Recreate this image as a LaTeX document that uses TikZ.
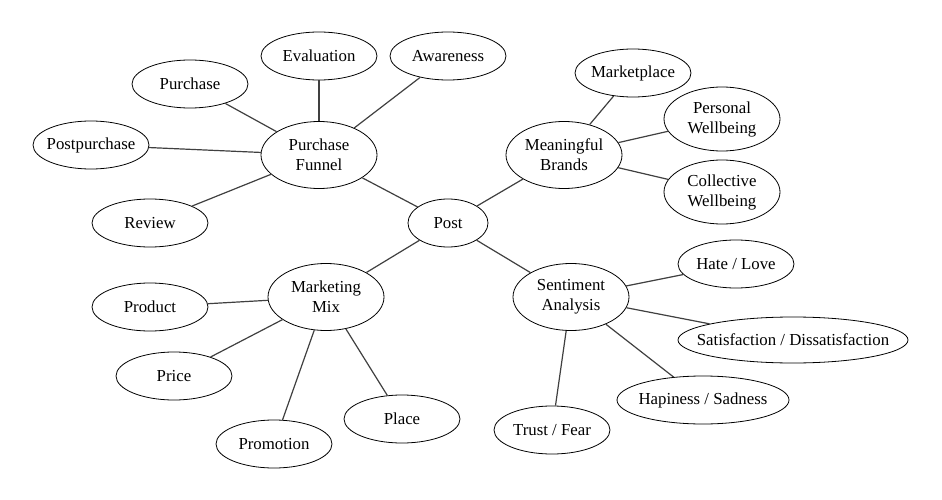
\documentclass[tikz,border=0pt]{standalone}
\usepackage{fontspec}
\setmainfont{Liberation Serif}
\usetikzlibrary{shapes.geometric}
\begin{document}
\begin{tikzpicture}[x=1pt,y=-1pt,
  bubble/.style={draw,ellipse,line width=0.8pt,fill=white,inner xsep=-20pt,inner ysep=0pt,minimum width=116pt,minimum height=48pt,align=center,font=\fontsize{16.8}{20}\selectfont},
  hub/.style={bubble,minimum height=67pt},
  link/.style={draw=black!75,line width=1.2pt}]
\useasboundingbox[fill=white] (0,0) rectangle (942,500);

\node[bubble,minimum width=80pt] (post) at (448,223) {Post};
\node[hub] (funnel) at (319,155) {Purchase\\Funnel};
\node[hub] (brands) at (564,155) {Meaningful\\Brands};
\node[hub] (mix) at (326,297) {Marketing\\Mix};
\node[hub] (senti) at (571,297) {Sentiment\\Analysis};

\node[bubble] (eval) at (319,56) {Evaluation};
\node[bubble] (aware) at (448,56) {Awareness};
\node[bubble] (purch) at (190,84) {Purchase};
\node[bubble] (postp) at (91,145) {Postpurchase};
\node[bubble] (review) at (150,223) {Review};

\node[bubble] (market) at (633,73) {Marketplace};
\node[hub,minimum height=64pt] (personal) at (722,119) {Personal\\Wellbeing};
\node[hub,minimum height=64pt] (collect) at (722,192) {Collective\\Wellbeing};

\node[bubble] (product) at (150,307) {Product};
\node[bubble] (price) at (174,376) {Price};
\node[bubble] (promo) at (274,444) {Promotion};
\node[bubble] (place) at (402,419) {Place};

\node[bubble] (hate) at (736,264) {Hate / Love};
\node[bubble,minimum width=230pt,minimum height=46pt] (satis) at (793,340) {Satisfaction / Dissatisfaction};
\node[bubble,minimum width=172pt] (happy) at (703,400) {Hapiness / Sadness};
\node[bubble] (trust) at (552,430) {Trust / Fear};

\foreach \a/\b in {post/funnel,post/brands,post/mix,post/senti,
  funnel/eval,funnel/aware,funnel/purch,funnel/postp,funnel/review,
  brands/market,brands/personal,brands/collect,
  mix/product,mix/price,mix/promo,mix/place,
  senti/hate,senti/satis,senti/happy,senti/trust}
  {\draw[link] (\a) -- (\b);}
\end{tikzpicture}
\end{document}
